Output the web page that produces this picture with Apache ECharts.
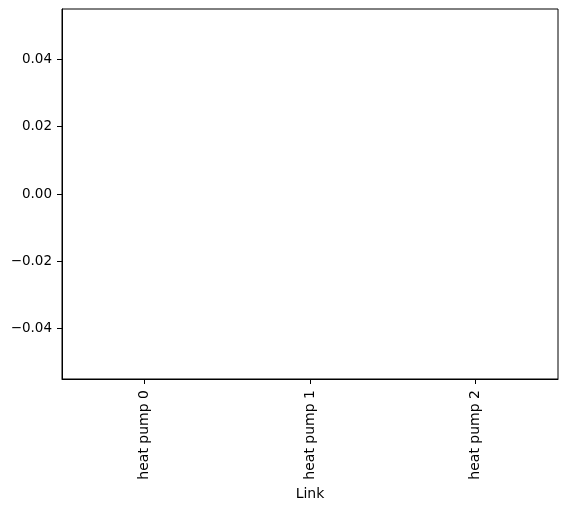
<!DOCTYPE html>
<html>
<head>
<meta charset="utf-8">
<script src="https://cdn.jsdelivr.net/npm/echarts@6/dist/echarts.min.js"></script>
<style>
  html, body { margin: 0; padding: 0; background: #fff; }
  #chart { width: 567px; height: 507px; }
</style>
</head>
<body>
<div id="chart"></div>
<script>
var categories = ['heat pump 0', 'heat pump 1', 'heat pump 2'];
var values = [0, 0, 0];
var yTicks = [-0.04, -0.02, 0.00, 0.02, 0.04];
var yMin = -0.055, yMax = 0.055;

var myChart = echarts.init(document.getElementById('chart'));

function fmt(v) {
    // matplotlib style: unicode minus, two decimals
    var s = Math.abs(v).toFixed(2);
    return (v < -1e-9 ? '\u2212' : '') + s;
}

var option = {
    animation: false,
    textStyle: { fontFamily: 'DejaVu Sans' },
    grid: {
        left: 62, right: 9, top: 9, bottom: 128,
        show: true, borderColor: '#000', borderWidth: 1,
        containLabel: false,
        outerBoundsMode: 'none'
    },
    xAxis: {
        type: 'category',
        data: categories,
        name: 'Link',
        nameLocation: 'middle',
        nameGap: 106,
        nameTextStyle: { fontSize: 14, color: '#000', fontFamily: 'DejaVu Sans' },
        axisLine: { show: true, onZero: false, lineStyle: { color: '#000', width: 1 } },
        axisTick: { show: true, alignWithLabel: true, length: 5, lineStyle: { color: '#000' } },
        axisLabel: { rotate: 90, fontSize: 14, color: '#000', margin: 11, fontFamily: 'DejaVu Sans' },
        splitLine: { show: false }
    },
    yAxis: {
        type: 'value',
        min: yMin,
        max: yMax,
        axisLine: { show: true, lineStyle: { color: '#000', width: 1 } },
        axisTick: { show: true, length: 5, lineStyle: { color: '#000' }, customValues: yTicks },
        axisLabel: {
            fontSize: 13.5, color: '#000', margin: 10, fontFamily: 'DejaVu Sans',
            customValues: yTicks,
            formatter: fmt
        },
        splitLine: { show: false }
    },
    series: [{
        type: 'bar',
        data: values,
        barWidth: '50%',
        itemStyle: { color: '#1f77b4' }
    }]
};
myChart.setOption(option);
</script>
</body>
</html>
